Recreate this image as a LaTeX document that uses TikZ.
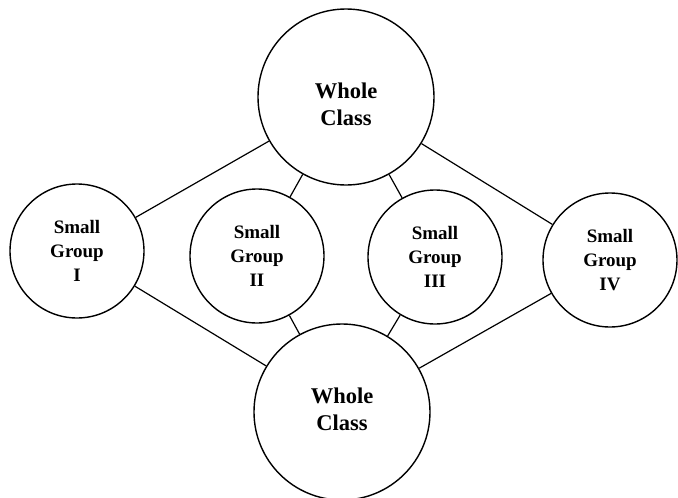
\documentclass[tikz,border=0pt]{standalone}
\usepackage{fontspec}
\setmainfont{Liberation Serif}
\begin{document}
\begin{tikzpicture}[x=1pt,y=-1pt,
  big/.style={circle,draw,line width=1.4pt,minimum size=176pt,inner sep=0pt},
  small/.style={circle,draw,line width=1.4pt,minimum size=134pt,inner sep=0pt,align=center,
    font=\bfseries\fontsize{19}{24}\selectfont},
  bigtext/.style={align=center,font=\bfseries\fontsize{22.5}{27}\selectfont,inner sep=0pt},
  link/.style={line width=1.2pt}]
\useasboundingbox (0,0) rectangle (678,498);
\node[big] (top) at (346,97) {};
\node[bigtext] (toptext) at (346,104) {Whole\\Class};
\node[big] (bot) at (342,412) {};
\node[bigtext] (bottext) at (342,409) {Whole\\Class};
\node[small] (g1) at (77,251) {Small\\Group\\I};
\node[small] (g2) at (257,256) {Small\\Group\\II};
\node[small] (g3) at (435,257) {Small\\Group\\III};
\node[small] (g4) at (610,260) {Small\\Group\\IV};
\foreach \g in {g1,g2,g3,g4}{
  \draw[link] (top) -- (\g);
  \draw[link] (\g) -- (bot);
}
\end{tikzpicture}
\end{document}
